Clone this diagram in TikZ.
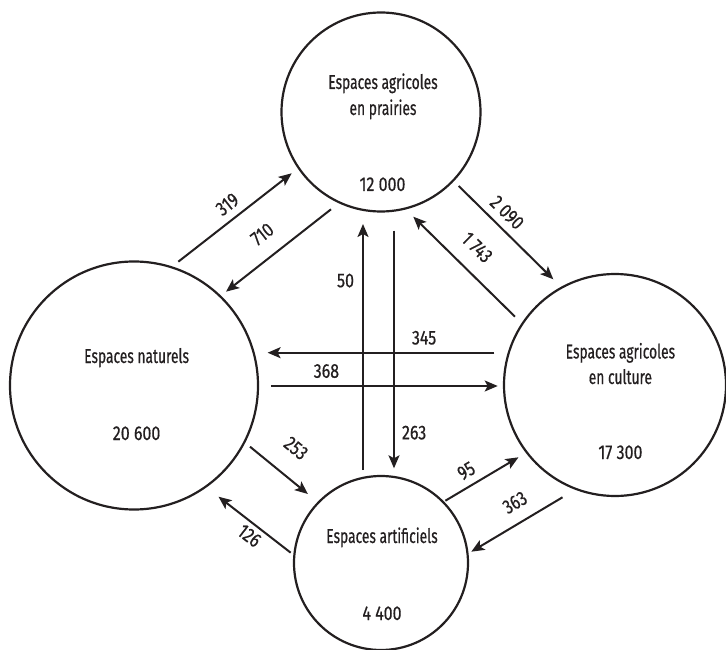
\documentclass[tikz,border=0pt]{standalone}
\usepackage{fontspec}
\setmainfont{Fira Sans}[FakeStretch=0.69,FakeBold=0.5]
\newfontfamily\numfont{Fira Sans}[FakeStretch=0.8,FakeBold=0.5]
\usetikzlibrary{arrows.meta}
\definecolor{ink}{RGB}{35,31,32}
\begin{document}
\begin{tikzpicture}[x=1pt,y=-1pt,
  ring/.style={draw=ink, line width=2.2pt, circle, inner sep=0pt},
  txt/.style={text=ink, font=\fontsize{20}{24}\selectfont, anchor=base, inner sep=0pt},
  num/.style={text=ink, font=\numfont\fontsize{20}{24}\selectfont, anchor=base, inner sep=0pt},
  flow/.style={draw=ink, line width=2pt, -{Stealth[length=13pt,width=11pt,inset=3pt]}},
  lab/.style={text=ink, font=\numfont\fontsize{20}{24}\selectfont, inner sep=0pt, sloped, above=7pt},
  labv/.style={text=ink, font=\numfont\fontsize{20}{24}\selectfont, inner sep=0pt}]
\useasboundingbox (0,0) rectangle (726,650);
% circles
\node[ring, minimum size=199pt] (prai) at (381,112) {};
\node[ring, minimum size=248pt] (nat) at (134,385.5) {};
\node[ring, minimum size=222pt] (cult) at (615,385) {};
\node[ring, minimum size=174pt] (arti) at (381,563) {};
% texts
\node[txt] (prai1) at (383,89) {Espaces agricoles};
\node[txt] (prai2) at (383,115) {en prairies};
\node[num] (prai3) at (382.5,191) {12 000};
\node[txt] (nat1) at (136.6,363) {Espaces naturels};
\node[num] (nat2) at (136.6,440) {20 600};
\node[txt] (cult1) at (620.4,358.5) {Espaces agricoles};
\node[txt] (cult2) at (620.4,384) {en culture};
\node[num] (cult3) at (620.4,459) {17 300};
\node[txt] (arti1) at (382,543) {Espaces artificiels};
\node[num] (arti2) at (382,620) {4 400};
% arrow end points
\coordinate (p319a) at (178.3,261.7); \coordinate (p319b) at (291.7,173.3);
\coordinate (p710a) at (331,209.3);   \coordinate (p710b) at (226,291.7);
\coordinate (p50a) at (363,470);      \coordinate (p50b) at (363,224);
\coordinate (p263a) at (394,230.7);   \coordinate (p263b) at (394,468.3);
\coordinate (p2090a) at (458.7,186);  \coordinate (p2090b) at (553.3,279.3);
\coordinate (p1743a) at (515,316.7);  \coordinate (p1743b) at (413.3,216.7);
\coordinate (p345a) at (494.4,352.7); \coordinate (p345b) at (267.6,352.7);
\coordinate (p368a) at (270.8,386);   \coordinate (p368b) at (497.7,386);
\coordinate (p253a) at (250,446.7);   \coordinate (p253b) at (307.9,494);
\coordinate (p126a) at (290.7,552.7); \coordinate (p126b) at (218.5,496.7);
\coordinate (p95a) at (445.4,500.7);  \coordinate (p95b) at (518.5,457.3);
\coordinate (p363a) at (562.5,497.3); \coordinate (p363b) at (471.3,551.7);
% arrows
\draw[flow] (p319a) -- node[lab, pos=0.515] (l319) {319} (p319b);
\draw[flow] (p710a) -- node[lab, pos=0.52, above=8pt] (l710) {710} (p710b);
\draw[flow] (p50a) -- node[labv, pos=0.77, left=8pt] (l50) {50} (p50b);
\draw[flow] (p263a) -- node[labv, pos=0.85, right=7pt] (l263) {263} (p263b);
\draw[flow] (p2090a) -- node[lab, pos=0.40] (l2090) {2 090} (p2090b);
\draw[flow] (p1743a) -- node[lab, pos=0.53, above=8pt] (l1743) {1 743} (p1743b);
\draw[flow] (p345a) -- node[lab, pos=0.31] (l345) {345} (p345b);
\draw[flow] (p368a) -- node[lab, pos=0.245] (l368) {368} (p368b);
\draw[flow] (p253a) -- node[lab, pos=0.49, above=13pt] (l253) {253} (p253b);
\draw[flow] (p126a) -- node[lab, pos=0.47, below=11pt] (l126) {126} (p126b);
\draw[flow] (p95a) -- node[lab, pos=0.39] (l95) {95} (p95b);
\draw[flow] (p363a) -- node[lab, pos=0.41, above=5pt] (l363) {363} (p363b);
\end{tikzpicture}
\end{document}
